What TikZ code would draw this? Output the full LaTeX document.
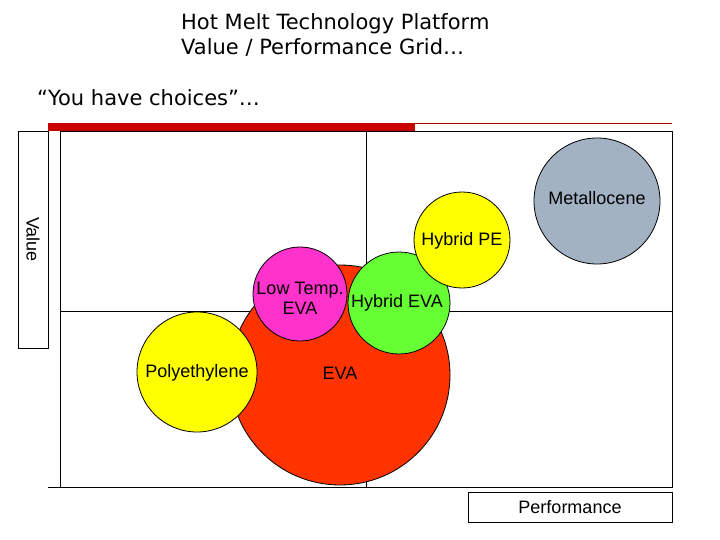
\documentclass[tikz,border=0pt]{standalone}
\usepackage{fontspec}
\setmainfont{Liberation Sans}
\newfontfamily\titlefont{DejaVu Sans}
\usetikzlibrary{positioning}
\definecolor{barred}{HTML}{C80000}
\definecolor{evared}{HTML}{FF3300}
\definecolor{lowpink}{HTML}{FF33CC}
\definecolor{hybgreen}{HTML}{66FF33}
\definecolor{peyellow}{HTML}{FFFF00}
\definecolor{metgray}{HTML}{A3B2C2}

\begin{document}
\begin{tikzpicture}[x=1pt,y=-1pt,
  bub/.style={circle,draw=black,line width=0.8pt,inner sep=0pt},
  txt/.style={font=\fontsize{18}{20}\selectfont,align=center,inner sep=0pt},
  axbox/.style={draw=black,line width=0.8pt,inner sep=0pt,
                font=\fontsize{18}{20}\selectfont},
  ttl/.style={anchor=base west,inner sep=0pt,font=\titlefont\fontsize{21}{25}\selectfont},
  gl/.style={black,line width=0.8pt}]
\useasboundingbox[fill=white] (0,0) rectangle (720,540);
% title
\node[ttl] (t1) at (181,30) {Hot Melt Technology Platform};
\node[ttl] (t2) at (181,55) {Value / Performance Grid…};
\node[ttl] (t3) at (37,106) {“You have choices”…};
% bar over the grid
\fill[barred] (48,123) rectangle (415,131);
\draw[barred!80!black,line width=0.8pt] (415,123.5) -- (672,123.5);
% grid
\draw[gl] (60,131) rectangle (672,487);
\draw[gl] (366,131) -- (366,487);
\draw[gl] (60,311) -- (672,311);
\draw[gl] (48,487) -- (60,487);
% axis boxes
\node[axbox,minimum width=217pt,minimum height=30pt,rotate=-90] (val) at (33,239.5) {Value};
\node[axbox,minimum width=204pt,minimum height=30pt] (perf) at (570,507) {Performance};
% bubbles
\node[bub,fill=evared,minimum size=220pt] (eva) at (340,375) {};
\node[bub,fill=peyellow,minimum size=120pt] (pe) at (197,372) {};
\node[bub,fill=lowpink,minimum size=94pt] (lt) at (300,294) {};
\node[bub,fill=hybgreen,minimum size=102pt] (heva) at (399,303) {};
\node[bub,fill=peyellow,minimum size=96pt] (hpe) at (462,240) {};
\node[bub,fill=metgray,minimum size=126pt] (met) at (597,201) {};
% labels
\node[txt] (metl) at (met.center) [yshift=3pt] {Metallocene};
\node[txt] (hpel) at (hpe.center) [yshift=-1pt] {Hybrid PE};
\node[txt] (heval) at (heva.center) [xshift=-2pt] {Hybrid EVA};
\node[txt] (ltl) at (lt.center) [yshift=-4pt] {Low Temp.\\EVA};
\node[txt] (peel) at (pe.center) [yshift=-1pt] {Polyethylene};
\node[txt] (eval) at (eva.center) [yshift=2pt] {EVA};
\end{tikzpicture}
\end{document}
